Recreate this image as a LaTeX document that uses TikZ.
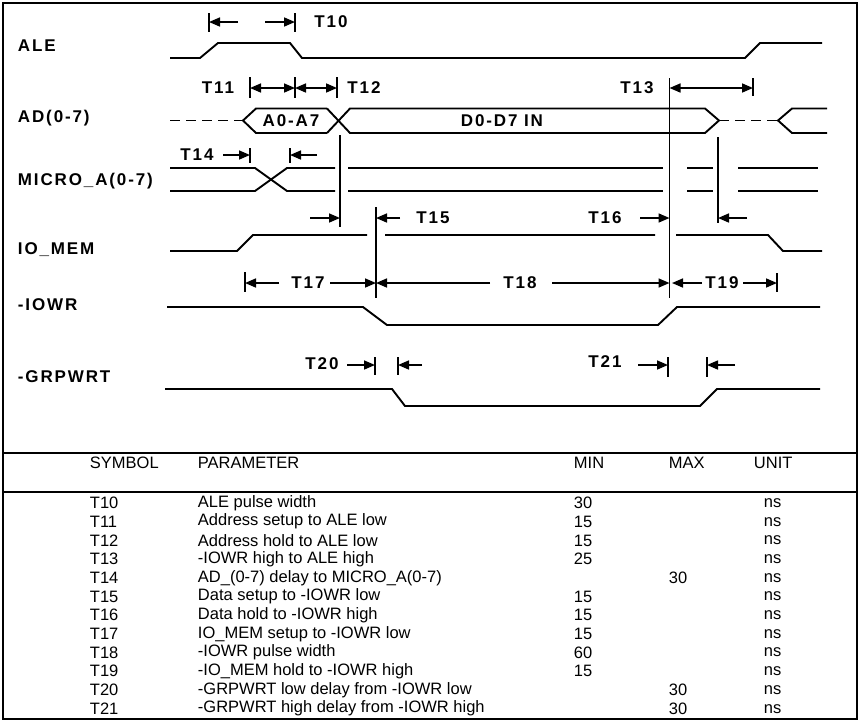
\documentclass[tikz,border=0pt]{standalone}
\usepackage{fontspec}
\setmainfont{Liberation Sans}
\newfontfamily\sigfont[LetterSpace=11]{Liberation Sans}
\usetikzlibrary{arrows.meta}

\begin{document}
\begin{tikzpicture}[x=1pt, y=-1pt, line width=1.9pt,
  >={Triangle[length=11pt,width=9pt]},
  sig/.style={font={\sigfont\bfseries\fontsize{17}{17}\selectfont}, inner sep=0pt},
  tab/.style={font={\fontsize{16.5}{16.5}\selectfont}, inner sep=0pt, anchor=west},
  dim/.style={line width=1.6pt},
  bus/.style={dash pattern=on 10pt off 6pt}]
%\draw [help lines, step=10pt](0,0) grid (859,721);
\useasboundingbox (0,0) rectangle (859,721);

\draw [line width=2.2pt] (3,3) rectangle (857,719);
\draw [line width=2pt] (3,453) -- (857,453);
\draw [line width=2pt] (3,492) -- (857,492);

% signal names
\node [sig, anchor=west] (ale) at (17,46) {ALE};
\node [sig, anchor=west] (ad) at (17,118) {AD(0-7)};
\node [sig, anchor=west] (micro) at (17,181) {MICRO\_A(0-7)};
\node [sig, anchor=west] (iomem) at (17,250) {IO\_MEM};
\node [sig, anchor=west] (iowr) at (17,305) {-IOWR};
\node [sig, anchor=west] (grpwrt) at (17,377) {-GRPWRT};

% waveforms
\draw (170,58) -- (200,58) -- (218,43) -- (290,43) -- (302,58) -- (745,58) -- (760,43) -- (822,43);
\draw [bus] (170,120.5) -- (243,120.5);
\draw (327,108.5) -- (256,108.5) -- (243,120.5) -- (256,133) -- (327,133);
\draw (327,108.5) -- (350,133) -- (705,133) -- (719,120.5);
\draw (327,133) -- (350,108.5) -- (705,108.5) -- (719,120.5);
\draw [bus] (719,120.5) -- (778,120.5);
\draw (827,108.5) -- (792,108.5) -- (778,120.5) -- (792,133) -- (827,133);
\node [sig] (addr) at (291,120.5) {A0-A7};
\node [sig] (data) at (502,120.5) {D0-D7 IN};

\draw (170,168) -- (255,168) -- (287,191) -- (335,191);
\draw (170,191) -- (255,191) -- (287,168) -- (335,168);
\draw (348,168) -- (663,168) (687,168) -- (713,168) (738,168) -- (818,168);
\draw (348,191) -- (663,191) (687,191) -- (713,191) (738,191) -- (818,191);

\draw (170,251) -- (237,251) -- (253,235) -- (367,235) (385,235) -- (655,235);
\draw (676,235) -- (768,235) -- (783,251) -- (822,251);
\draw (167,307) -- (363,307) -- (387,325) -- (658,325) -- (677,307) -- (820,307);
\draw (165,389) -- (392,389) -- (405,406) -- (700,406) -- (717,389) -- (820,389);

% reference lines
\draw [dim] (340,135) -- (340,227);
\draw [dim] (376,207) -- (376,298);
\draw [dim] (669.5,78) -- (669.5,298);
\draw [dim] (718,137) -- (718,223);

% timing marks
\begin{scope}[dim]
\draw (209,13) -- (209,32) (295,13) -- (295,32);
\draw [->] (238,22) -- (209,22);
\draw [->] (265,22) -- (295,22);
\node [sig] (t10) at (331,22) {T10};

\draw (250,77) -- (250,98) (295,77) -- (295,98) (337,77) -- (337,98);
\draw [<->] (250,88) -- (295,88);
\draw [<->] (295,88) -- (337,88);
\node [sig] (t11) at (218,88) {T11};
\node [sig] (t12) at (364,88) {T12};

\draw (753,78) -- (753,96);
\draw [<->] (669.5,88) -- (753,88);
\node [sig] (t13) at (637,88) {T13};

\draw (250,148) -- (250,163) (290,148) -- (290,163);
\draw [->] (223,155) -- (250,155);
\draw [->] (317,155) -- (290,155);
\node [sig] (t14) at (197,155) {T14};

\draw [->] (310,218) -- (340,218);
\draw [->] (400,218) -- (376,218);
\node [sig] (t15) at (433,218) {T15};
\draw [->] (640,218) -- (669.5,218);
\node [sig] (t16) at (605,218) {T16};
\draw [->] (747,218) -- (718,218);

\draw (245,272) -- (245,292) (777,273) -- (777,292);
\draw [->] (279,283) -- (245,283);
\draw [->] (330,283) -- (376,283);
\node [sig] (t17) at (308,283) {T17};
\draw [->] (490,283) -- (376,283);
\draw [->] (552,283) -- (669.5,283);
\node [sig] (t18) at (520,283) {T18};
\draw [->] (702,283) -- (672,283);
\draw [->] (743,283) -- (777,283);
\node [sig] (t19) at (722,283) {T19};

\draw (375,357) -- (375,375) (398,357) -- (398,375);
\draw [->] (347,365) -- (375,365);
\draw [->] (422,365) -- (398,365);
\node [sig] (t20) at (322,364) {T20};
\draw (668,357) -- (668,377) (707,357) -- (707,377);
\draw [->] (638,365) -- (668,365);
\draw [->] (735,365) -- (707,365);
\node [sig] (t21) at (605,362) {T21};
\end{scope}

% table
\node [tab] (hsym) at (89,463) {SYMBOL};
\node [tab] (hprm) at (197,463) {PARAMETER};
\node [tab] (hmin) at (573,463) {MIN};
\node [tab] (hmax) at (668,463) {MAX};
\node [tab] (hunit) at (753,463) {UNIT};
\foreach \sym/\prm/\mn/\mx [count=\i from 0] in {
  {T10}/{ALE pulse width}/{30}/{},
  {T11}/{Address setup to ALE low}/{15}/{},
  {T12}/{Address hold to ALE low}/{15}/{},
  {T13}/{-IOWR high to ALE high}/{25}/{},
  {T14}/{AD\_(0-7) delay to MICRO\_A(0-7)}/{}/{30},
  {T15}/{Data setup to -IOWR low}/{15}/{},
  {T16}/{Data hold to -IOWR high}/{15}/{},
  {T17}/{IO\_MEM setup to -IOWR low}/{15}/{},
  {T18}/{-IOWR pulse width}/{60}/{},
  {T19}/{-IO\_MEM hold to -IOWR high}/{15}/{},
  {T20}/{-GRPWRT low delay from -IOWR low}/{}/{30},
  {T21}/{-GRPWRT high delay from -IOWR high}/{}/{30}}{
  \node [tab] (sym\i) at (89,503+18.7*\i) {\sym};
  \node [tab] (prm\i) at (197,503+18.7*\i) {\prm};
  \node [tab] (min\i) at (573,503+18.7*\i) {\mn};
  \node [tab] (max\i) at (668,503+18.7*\i) {\mx};
  \node [tab] (unit\i) at (763,503+18.7*\i) {ns};
}
\end{tikzpicture}
\end{document}
